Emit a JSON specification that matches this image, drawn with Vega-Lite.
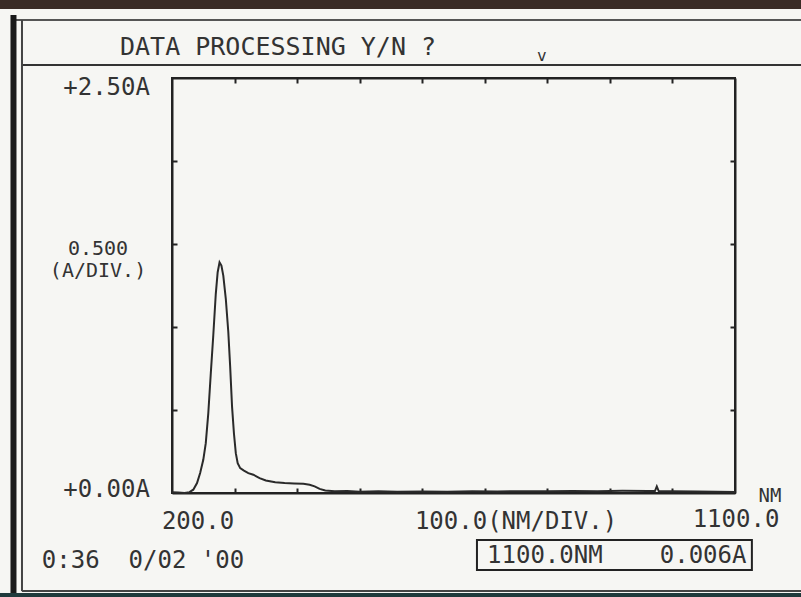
{
  "$schema": "https://vega.github.io/schema/vega-lite/v6.json",
  "width": 563,
  "height": 415,
  "autosize": {"type": "none"},
  "padding": {"left": 172, "top": 78, "right": 66, "bottom": 104},
  "background": "#f6f6f3",
  "config": {
    "view": {"stroke": "#222222", "strokeWidth": 2},
    "text": {"font": "DejaVu Sans Mono", "color": "#333333", "fontSize": 24, "baseline": "middle"},
    "axis": {"grid": false, "labels": false, "title": null, "domainColor": "#222222", "domainWidth": 2, "tickColor": "#222222", "tickWidth": 2, "tickSize": -5}
  },
  "datasets": {
    "one": [{}],
    "spectrum": [
      {"nm": 200, "abs": 0.005}, {"nm": 210, "abs": 0.003}, {"nm": 220, "abs": 0.0}, {"nm": 228, "abs": 0.005},
      {"nm": 234, "abs": 0.02}, {"nm": 240, "abs": 0.06}, {"nm": 245, "abs": 0.12}, {"nm": 250, "abs": 0.2},
      {"nm": 254, "abs": 0.3}, {"nm": 258, "abs": 0.48}, {"nm": 262, "abs": 0.72}, {"nm": 266, "abs": 0.95},
      {"nm": 270, "abs": 1.2}, {"nm": 273, "abs": 1.33}, {"nm": 276, "abs": 1.39}, {"nm": 279, "abs": 1.37},
      {"nm": 282, "abs": 1.31}, {"nm": 286, "abs": 1.17}, {"nm": 290, "abs": 0.97}, {"nm": 293, "abs": 0.76},
      {"nm": 296, "abs": 0.52}, {"nm": 299, "abs": 0.36}, {"nm": 302, "abs": 0.24}, {"nm": 305, "abs": 0.18},
      {"nm": 309, "abs": 0.15}, {"nm": 315, "abs": 0.135}, {"nm": 322, "abs": 0.12}, {"nm": 330, "abs": 0.11},
      {"nm": 340, "abs": 0.09}, {"nm": 350, "abs": 0.075}, {"nm": 365, "abs": 0.065}, {"nm": 380, "abs": 0.06},
      {"nm": 395, "abs": 0.057}, {"nm": 410, "abs": 0.055}, {"nm": 420, "abs": 0.05}, {"nm": 428, "abs": 0.04},
      {"nm": 436, "abs": 0.025}, {"nm": 445, "abs": 0.015}, {"nm": 460, "abs": 0.01}, {"nm": 480, "abs": 0.012},
      {"nm": 500, "abs": 0.008}, {"nm": 530, "abs": 0.01}, {"nm": 560, "abs": 0.007}, {"nm": 600, "abs": 0.009},
      {"nm": 640, "abs": 0.008}, {"nm": 680, "abs": 0.01}, {"nm": 720, "abs": 0.009}, {"nm": 760, "abs": 0.011},
      {"nm": 800, "abs": 0.01}, {"nm": 840, "abs": 0.012}, {"nm": 880, "abs": 0.011}, {"nm": 920, "abs": 0.013},
      {"nm": 960, "abs": 0.012}, {"nm": 972, "abs": 0.012}, {"nm": 975, "abs": 0.04}, {"nm": 978, "abs": 0.012},
      {"nm": 1000, "abs": 0.011}, {"nm": 1040, "abs": 0.009}, {"nm": 1070, "abs": 0.008}, {"nm": 1100, "abs": 0.006}
    ]
  },
  "layer": [
    {
      "data": {"name": "spectrum"},
      "mark": {"type": "line", "color": "#2a2a2a", "strokeWidth": 2, "clip": false},
      "encoding": {
        "x": {"field": "nm", "type": "quantitative", "scale": {"domain": [200, 1100], "nice": false, "zero": false},
              "axis": {"orient": "bottom", "values": [300, 400, 500, 600, 700, 800, 900, 1000]}},
        "y": {"field": "abs", "type": "quantitative", "scale": {"domain": [0, 2.5], "nice": false, "zero": false},
              "axis": {"orient": "left", "values": [0.5, 1.0, 1.5, 2.0]}}
      }
    },
    {
      "data": {"name": "spectrum"},
      "mark": {"type": "line", "opacity": 0, "clip": false},
      "encoding": {
        "x": {"field": "nm", "type": "quantitative", "scale": {"domain": [200, 1100], "nice": false, "zero": false},
              "axis": {"orient": "top", "values": [300, 400, 500, 600, 700, 800, 900, 1000]}},
        "y": {"field": "abs", "type": "quantitative", "scale": {"domain": [0, 2.5], "nice": false, "zero": false},
              "axis": {"orient": "right", "values": [0.5, 1.0, 1.5, 2.0]}}
      }
    },
    {
      "data": {"name": "one"},
      "mark": {"type": "rule", "color": "#3a2c26", "strokeWidth": 10, "clip": false},
      "encoding": {
        "x": {"datum": -80, "type": "quantitative", "scale": {"domain": [200, 1100], "nice": false, "zero": false}, "axis": null},
        "x2": {"datum": 1210},
        "y": {"datum": 2.946, "type": "quantitative", "scale": {"domain": [0, 2.5], "nice": false, "zero": false}, "axis": null}
      }
    },
    {
      "data": {"name": "one"},
      "mark": {"type": "rule", "color": "#555555", "strokeWidth": 2, "clip": false},
      "encoding": {
        "x": {"datum": -50, "type": "quantitative", "scale": {"domain": [200, 1100], "nice": false, "zero": false}, "axis": null},
        "x2": {"datum": 1210},
        "y": {"datum": 2.85, "type": "quantitative", "scale": {"domain": [0, 2.5], "nice": false, "zero": false}, "axis": null}
      }
    },
    {
      "data": {"name": "one"},
      "mark": {"type": "rule", "color": "#333333", "strokeWidth": 2, "clip": false},
      "encoding": {
        "x": {"datum": -40, "type": "quantitative", "scale": {"domain": [200, 1100], "nice": false, "zero": false}, "axis": null},
        "x2": {"datum": 1210},
        "y": {"datum": 2.578, "type": "quantitative", "scale": {"domain": [0, 2.5], "nice": false, "zero": false}, "axis": null}
      }
    },
    {
      "data": {"name": "one"},
      "mark": {"type": "rule", "color": "#1a1a1a", "strokeWidth": 6, "clip": false},
      "encoding": {
        "x": {"datum": -53.4, "type": "quantitative", "scale": {"domain": [200, 1100], "nice": false, "zero": false}, "axis": null},
        "y": {"datum": 2.88, "type": "quantitative", "scale": {"domain": [0, 2.5], "nice": false, "zero": false}, "axis": null},
        "y2": {"datum": -0.63}
      }
    },
    {
      "data": {"name": "one"},
      "mark": {"type": "rule", "color": "#444444", "strokeWidth": 2, "clip": false},
      "encoding": {
        "x": {"datum": -39.8, "type": "quantitative", "scale": {"domain": [200, 1100], "nice": false, "zero": false}, "axis": null},
        "y": {"datum": 2.85, "type": "quantitative", "scale": {"domain": [0, 2.5], "nice": false, "zero": false}, "axis": null},
        "y2": {"datum": -0.59}
      }
    },
    {
      "data": {"name": "one"},
      "mark": {"type": "rule", "color": "#444444", "strokeWidth": 2, "clip": false},
      "encoding": {
        "x": {"datum": -40, "type": "quantitative", "scale": {"domain": [200, 1100], "nice": false, "zero": false}, "axis": null},
        "x2": {"datum": 1210},
        "y": {"datum": -0.59, "type": "quantitative", "scale": {"domain": [0, 2.5], "nice": false, "zero": false}, "axis": null}
      }
    },
    {
      "data": {"name": "one"},
      "mark": {"type": "rule", "color": "#1f3a3c", "strokeWidth": 5, "clip": false},
      "encoding": {
        "x": {"datum": -80, "type": "quantitative", "scale": {"domain": [200, 1100], "nice": false, "zero": false}, "axis": null},
        "x2": {"datum": 1210},
        "y": {"datum": -0.618, "type": "quantitative", "scale": {"domain": [0, 2.5], "nice": false, "zero": false}, "axis": null}
      }
    },
    {
      "data": {"name": "one"},
      "mark": {"type": "rect", "fill": null, "stroke": "#222222", "strokeWidth": 2, "clip": false},
      "encoding": {
        "x": {"datum": 687.5, "type": "quantitative", "scale": {"domain": [200, 1100], "nice": false, "zero": false}, "axis": null},
        "x2": {"datum": 1127},
        "y": {"datum": -0.283, "type": "quantitative", "scale": {"domain": [0, 2.5], "nice": false, "zero": false}, "axis": null},
        "y2": {"datum": -0.464}
      }
    },
    {
      "data": {"name": "one"},
      "mark": {"type": "text", "text": "DATA PROCESSING Y/N ?", "align": "center", "fontSize": 25, "clip": false},
      "encoding": {
        "x": {"datum": 369.5, "type": "quantitative", "scale": {"domain": [200, 1100], "nice": false, "zero": false}, "axis": null},
        "y": {"datum": 2.687, "type": "quantitative", "scale": {"domain": [0, 2.5], "nice": false, "zero": false}, "axis": null}
      }
    },
    {
      "data": {"name": "one"},
      "mark": {"type": "text", "text": "v", "align": "center", "fontSize": 16, "clip": false},
      "encoding": {
        "x": {"datum": 791, "type": "quantitative", "scale": {"domain": [200, 1100], "nice": false, "zero": false}, "axis": null},
        "y": {"datum": 2.63, "type": "quantitative", "scale": {"domain": [0, 2.5], "nice": false, "zero": false}, "axis": null}
      }
    },
    {
      "data": {"name": "one"},
      "mark": {"type": "text", "text": "+2.50A", "align": "right", "clip": false},
      "encoding": {
        "x": {"datum": 164.8, "type": "quantitative", "scale": {"domain": [200, 1100], "nice": false, "zero": false}, "axis": null},
        "y": {"datum": 2.44, "type": "quantitative", "scale": {"domain": [0, 2.5], "nice": false, "zero": false}, "axis": null}
      }
    },
    {
      "data": {"name": "one"},
      "mark": {"type": "text", "text": "0.500", "align": "center", "fontSize": 20, "clip": false},
      "encoding": {
        "x": {"datum": 81.7, "type": "quantitative", "scale": {"domain": [200, 1100], "nice": false, "zero": false}, "axis": null},
        "y": {"datum": 1.47, "type": "quantitative", "scale": {"domain": [0, 2.5], "nice": false, "zero": false}, "axis": null}
      }
    },
    {
      "data": {"name": "one"},
      "mark": {"type": "text", "text": "(A/DIV.)", "align": "center", "fontSize": 20, "clip": false},
      "encoding": {
        "x": {"datum": 81.7, "type": "quantitative", "scale": {"domain": [200, 1100], "nice": false, "zero": false}, "axis": null},
        "y": {"datum": 1.335, "type": "quantitative", "scale": {"domain": [0, 2.5], "nice": false, "zero": false}, "axis": null}
      }
    },
    {
      "data": {"name": "one"},
      "mark": {"type": "text", "text": "+0.00A", "align": "right", "clip": false},
      "encoding": {
        "x": {"datum": 164.8, "type": "quantitative", "scale": {"domain": [200, 1100], "nice": false, "zero": false}, "axis": null},
        "y": {"datum": 0.018, "type": "quantitative", "scale": {"domain": [0, 2.5], "nice": false, "zero": false}, "axis": null}
      }
    },
    {
      "data": {"name": "one"},
      "mark": {"type": "text", "text": "200.0", "align": "center", "clip": false},
      "encoding": {
        "x": {"datum": 241.6, "type": "quantitative", "scale": {"domain": [200, 1100], "nice": false, "zero": false}, "axis": null},
        "y": {"datum": -0.175, "type": "quantitative", "scale": {"domain": [0, 2.5], "nice": false, "zero": false}, "axis": null}
      }
    },
    {
      "data": {"name": "one"},
      "mark": {"type": "text", "text": "100.0(NM/DIV.)", "align": "center", "clip": false},
      "encoding": {
        "x": {"datum": 750, "type": "quantitative", "scale": {"domain": [200, 1100], "nice": false, "zero": false}, "axis": null},
        "y": {"datum": -0.175, "type": "quantitative", "scale": {"domain": [0, 2.5], "nice": false, "zero": false}, "axis": null}
      }
    },
    {
      "data": {"name": "one"},
      "mark": {"type": "text", "text": "1100.0", "align": "center", "clip": false},
      "encoding": {
        "x": {"datum": 1101.6, "type": "quantitative", "scale": {"domain": [200, 1100], "nice": false, "zero": false}, "axis": null},
        "y": {"datum": -0.16, "type": "quantitative", "scale": {"domain": [0, 2.5], "nice": false, "zero": false}, "axis": null}
      }
    },
    {
      "data": {"name": "one"},
      "mark": {"type": "text", "text": "NM", "align": "center", "fontSize": 19, "clip": false},
      "encoding": {
        "x": {"datum": 1156, "type": "quantitative", "scale": {"domain": [200, 1100], "nice": false, "zero": false}, "axis": null},
        "y": {"datum": -0.018, "type": "quantitative", "scale": {"domain": [0, 2.5], "nice": false, "zero": false}, "axis": null}
      }
    },
    {
      "data": {"name": "one"},
      "mark": {"type": "text", "text": "0:36\u00a0\u00a00/02\u00a0'00", "align": "center", "clip": false},
      "encoding": {
        "x": {"datum": 153.6, "type": "quantitative", "scale": {"domain": [200, 1100], "nice": false, "zero": false}, "axis": null},
        "y": {"datum": -0.41, "type": "quantitative", "scale": {"domain": [0, 2.5], "nice": false, "zero": false}, "axis": null}
      }
    },
    {
      "data": {"name": "one"},
      "mark": {"type": "text", "text": "1100.0NM", "align": "center", "clip": false},
      "encoding": {
        "x": {"datum": 796, "type": "quantitative", "scale": {"domain": [200, 1100], "nice": false, "zero": false}, "axis": null},
        "y": {"datum": -0.38, "type": "quantitative", "scale": {"domain": [0, 2.5], "nice": false, "zero": false}, "axis": null}
      }
    },
    {
      "data": {"name": "one"},
      "mark": {"type": "text", "text": "0.006A", "align": "center", "clip": false},
      "encoding": {
        "x": {"datum": 1049, "type": "quantitative", "scale": {"domain": [200, 1100], "nice": false, "zero": false}, "axis": null},
        "y": {"datum": -0.38, "type": "quantitative", "scale": {"domain": [0, 2.5], "nice": false, "zero": false}, "axis": null}
      }
    }
  ],
  "resolve": {"axis": {"x": "independent", "y": "independent"}}
}
